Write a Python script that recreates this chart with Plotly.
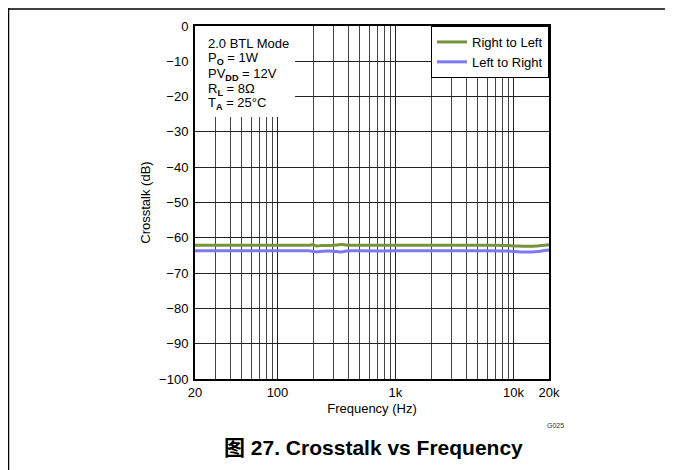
import plotly.graph_objects as go

freq = [20, 50, 100, 150, 185, 200, 215, 240, 280, 320, 350, 380, 420, 500, 1000, 2000, 5000, 9000, 11000, 13000, 16000, 20000]
right_to_left = [-62.1, -62.1, -62.1, -62.1, -62.1, -61.95, -62.3, -62.15, -62.2, -62.05, -61.9, -62.05, -62.1, -62.1, -62.1, -62.1, -62.1, -62.2, -62.35, -62.4, -62.3, -61.95]
left_to_right = [-63.7, -63.7, -63.7, -63.7, -63.7, -63.85, -64.0, -63.8, -63.75, -63.9, -64.0, -63.75, -63.65, -63.7, -63.7, -63.7, -63.7, -63.75, -63.95, -64.05, -63.9, -63.45]

major_x = [20, 100, 1000, 10000, 20000]
major_text = ["20", "100", "1k", "10k", "20k"]
minor_x = [30, 40, 50, 60, 70, 80, 90, 200, 300, 400, 500, 600, 700, 800, 900,
           2000, 3000, 4000, 5000, 6000, 7000, 8000, 9000]
y_ticks = [0, -10, -20, -30, -40, -50, -60, -70, -80, -90, -100]
conditions = ["2.0 BTL Mode", "P<sub><b>O</b></sub> = 1W", "PV<sub><b>DD</b></sub> = 12V",
              "R<sub><b>L</b></sub> = 8Ω", "T<sub><b>A</b></sub> = 25°C"]

FONT = "Liberation Sans, Arial, sans-serif"
PW, PH = 354, 353

fig = go.Figure()
fig.add_trace(go.Scatter(x=freq, y=right_to_left, mode="lines", name="Right to Left",
                         line=dict(color="#77933C", width=3, shape="spline", smoothing=0.6)))
fig.add_trace(go.Scatter(x=freq, y=left_to_right, mode="lines", name="Left to Right",
                         line=dict(color="#7F78F5", width=3, shape="spline", smoothing=0.6)))

fig.update_layout(
    width=673, height=470,
    margin=dict(l=187, r=132, t=18, b=99),
    paper_bgcolor="white", plot_bgcolor="white",
    font=dict(family=FONT, size=13, color="black"),
    showlegend=True,
    legend=dict(x=1, y=1, xanchor="right", yanchor="top", bgcolor="white",
                bordercolor="black", borderwidth=1, font=dict(size=13),
                itemwidth=30, tracegroupgap=0),
)
fig.update_xaxes(
    type="log", range=[1.30103, 4.30103],
    tickvals=major_x, ticktext=major_text, ticks="",
    showgrid=True, gridcolor="#222", gridwidth=1,
    minor=dict(tickvals=minor_x, showgrid=True, gridcolor="#444", gridwidth=1, ticks=""),
    showline=True, linecolor="black", linewidth=2, mirror=True,
    title=dict(text="Frequency (Hz)", font=dict(size=13), standoff=5),
    tickfont=dict(size=13), zeroline=False,
)
fig.update_yaxes(
    range=[-100, 0], tickvals=y_ticks, ticks="",
    showgrid=True, gridcolor="#222", gridwidth=1,
    showline=True, linecolor="black", linewidth=2, mirror=True,
    title=dict(text="Crosstalk (dB)", font=dict(size=13), standoff=6),
    tickfont=dict(size=13), zeroline=False, ticklabelstandoff=2,
)

# white box behind the condition text (hides gridlines)
fig.add_shape(type="rect", xref="x", yref="y", x0=20, x1=141, y0=0, y1=-25.8,
              fillcolor="white", line=dict(width=0), layer="between")

line_centers = [16, 31, 46, 61, 75]  # px below plot top
for txt, c in zip(conditions, line_centers):
    fig.add_annotation(
        xref="paper", yref="paper", x=11 / PW, y=1 - (c - 8.5) / PH,
        xanchor="left", yanchor="top", align="left", showarrow=False,
        font=dict(size=13), text=txt,
    )
fig.add_annotation(xref="paper", yref="paper", x=1.048, y=-46 / PH, xanchor="right", yanchor="middle",
                   showarrow=False, text="G025", font=dict(size=7, color="#333"))
fig.add_annotation(xref="paper", yref="paper", x=0.503, y=-68 / PH, xanchor="center", yanchor="middle",
                   showarrow=False, text="<b>图 27. Crosstalk vs Frequency</b>",
                   font=dict(size=21, family="Liberation Sans, Noto Sans CJK SC, sans-serif"))

# page frame lines
fig.add_shape(type="line", xref="paper", yref="paper", x0=-186.5 / PW, x1=1.5,
              y0=1 + 17 / PH, y1=1 + 17 / PH, line=dict(color="black", width=1.5))
fig.add_shape(type="line", xref="paper", yref="paper", x0=-186.5 / PW, x1=-186.5 / PW,
              y0=1 + 18 / PH, y1=-99 / PH, line=dict(color="black", width=1.5))

fig.write_html("out.html")
